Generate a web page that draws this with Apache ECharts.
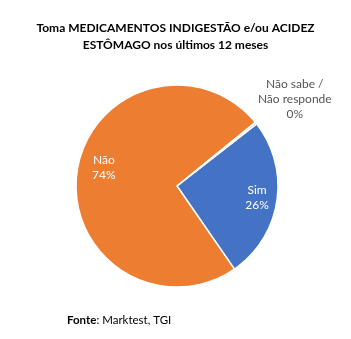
<!DOCTYPE html>
<html>
<head>
<meta charset="utf-8">
<script src="https://cdn.jsdelivr.net/npm/echarts@6/dist/echarts.min.js"></script>
<style>html,body{margin:0;padding:0;background:#fff}#c{width:351px;height:339px}</style>
</head>
<body>
<div id="c"></div>
<script>
var categories = ['Sim', 'Não', 'Não sabe /\nNão responde'];
var values = [26, 74, 0.3];
var colors = ['#4472C4', '#ED7D31', '#A5A5A5'];
var titleLines = ['Toma MEDICAMENTOS INDIGESTÃO e/ou ACIDEZ', 'ESTÔMAGO nos últimos 12 meses'];
var sourceBold = 'Fonte';
var sourceText = ': Marktest, TGI';

var FONT = 'Lato';
var chart = echarts.init(document.getElementById('c'));
var total = values.reduce(function(a,b){return a+b;},0);
function pct(p){ return Math.round(p.value / total * 100) + '%'; }

var mainData = categories.map(function(c,i){
  return {name:c, value:values[i], itemStyle:{color:colors[i]}};
});
var labelOffsets = [[0,-1],[7,-7],[0,0]];
function labelData(which){
  return categories.map(function(c,i){
    return {name:c, value:values[i], label:{show: which.indexOf(i) >= 0, offset: labelOffsets[i]}};
  });
}
var overlayBase = {
  type:'pie', center:[177,186], startAngle:38, clockwise:true,
  silent:true, avoidLabelOverlap:false, labelLine:{show:false},
  itemStyle:{color:'rgba(0,0,0,0)', borderWidth:0},
  emphasis:{disabled:true}, animation:false
};

chart.setOption({
  backgroundColor:'#fff',
  animation:false,
  title:{
    text: titleLines.join('\n'),
    left:'center', top:15,
    textStyle:{fontFamily:FONT, fontSize:12, fontWeight:'bold', color:'#000', lineHeight:17}
  },
  graphic:[{
    type:'text', left:67, top:314,
    style:{
      text:'{b|' + sourceBold + '}' + sourceText,
      rich:{b:{fontWeight:'bold', fontFamily:FONT, fontSize:11.5, fill:'#000'}},
      fontFamily:FONT, fontSize:11.5, fill:'#000'
    }
  }],
  series:[
    {
      type:'pie', center:[177,186], radius:[0,101], startAngle:38, clockwise:true,
      data: mainData, silent:true, animation:false,
      itemStyle:{borderColor:'#fff', borderWidth:1.5},
      label:{show:false}, labelLine:{show:false}
    },
    Object.assign({}, overlayBase, {
      radius:[0,156], z:3,
      data: labelData([0,1]),
      label:{position:'inside', fontFamily:FONT, fontSize:12, color:'#fff', lineHeight:15,
        formatter:function(p){ return p.name + '\n' + pct(p); }}
    }),
    Object.assign({}, overlayBase, {
      radius:[0,290], z:3,
      data: labelData([2]).map(function(d){ d.label.offset = [2,5]; return d; }),
      label:{position:'inside', fontFamily:FONT, fontSize:12, color:'#555', lineHeight:15,
        formatter:function(p){ return p.name + '\n' + pct(p); }}
    })
  ]
});
</script>
</body>
</html>
